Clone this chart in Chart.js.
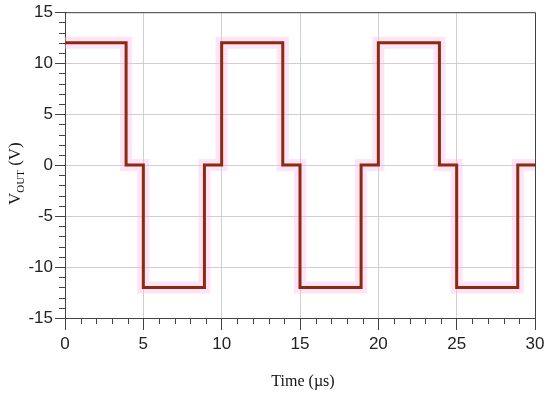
<!DOCTYPE html>
<html>
<head>
<meta charset="utf-8">
<script src="https://cdn.jsdelivr.net/npm/chart.js@4/dist/chart.umd.min.js"></script>
<style>
  html, body { margin: 0; padding: 0; background: #fff; }
  #wrap { width: 550px; height: 396px; position: relative; }
</style>
</head>
<body>
<div id="wrap"><canvas id="vout"></canvas></div>
<script>
"use strict";

// transition points of the output waveform (value held until the next time)
const timeUs = [0, 3.9, 5, 8.9, 10, 13.9, 15, 18.9, 20, 23.9, 25, 28.9, 30];
const voltsOut = [12, 0, -12, 0, 12, 0, -12, 0, 12, 0, -12, 0, 0];

const xTicks = [0, 5, 10, 15, 20, 25, 30];
const yTicks = [-15, -10, -5, 0, 5, 10, 15];

const points = timeUs.map((t, i) => ({ x: t, y: voltsOut[i] }));

const SANS = "Arial, 'Liberation Sans', sans-serif";
const SERIF = "'Times New Roman', 'Liberation Serif', serif";

// minor ticks, top/right frame and the axis titles
const decorPlugin = {
  id: "decor",
  afterDraw(chart) {
    const ctx = chart.ctx;
    const { top, bottom, left, right } = chart.chartArea;
    const xs = chart.scales.x, ys = chart.scales.y;
    ctx.save();
    ctx.strokeStyle = "#444";
    ctx.lineWidth = 1;
    ctx.beginPath();
    for (let v = xs.min; v <= xs.max; v++) {
      if (v % 5 === 0) continue;
      const px = Math.round(xs.getPixelForValue(v)) + 0.5;
      ctx.moveTo(px, bottom);
      ctx.lineTo(px, bottom + 6);
    }
    for (let v = ys.min; v <= ys.max; v++) {
      if (v % 5 === 0) continue;
      const py = Math.round(ys.getPixelForValue(v)) + 0.5;
      ctx.moveTo(left, py);
      ctx.lineTo(left - 6, py);
    }
    // frame
    ctx.moveTo(left, top + 0.5);
    ctx.lineTo(right + 0.5, top + 0.5);
    ctx.lineTo(right + 0.5, bottom);
    ctx.stroke();

    ctx.fillStyle = "#111";
    ctx.font = "16px " + SERIF;
    ctx.textAlign = "center";
    ctx.textBaseline = "middle";
    ctx.fillText("Time (µs)", (left + right) / 2 + 3, 382);

    // V_OUT (V), rotated
    ctx.translate(20, 205);
    ctx.rotate(-Math.PI / 2);
    ctx.textAlign = "left";
    ctx.textBaseline = "alphabetic";
    ctx.font = "17px " + SERIF;
    ctx.fillText("V", 0, 0);
    let w = ctx.measureText("V").width;
    ctx.font = "11px " + SERIF;
    ctx.fillText("OUT", w, 4);
    w += ctx.measureText("OUT").width;
    ctx.font = "17px " + SERIF;
    ctx.fillText(" (V)", w, 0);
    ctx.restore();
  },
};

new Chart(document.getElementById("vout"), {
  type: "line",
  plugins: [decorPlugin],
  data: {
    datasets: [
      {
        label: "Vout",
        data: points,
        stepped: "before",
        borderColor: "#8a2a0e",
        borderWidth: 3,
        pointRadius: 0,
        fill: false,
        order: 1,
      },
      {
        label: "glow",
        data: points,
        stepped: "before",
        borderColor: "rgba(255,185,235,0.4)",
        borderWidth: 12,
        pointRadius: 0,
        fill: false,
        order: 2,
      },
    ],
  },
  options: {
    responsive: true,
    maintainAspectRatio: false,
    animation: false,
    layout: { padding: { top: 10, right: 15, left: 0, bottom: 0 } },
    plugins: { legend: { display: false }, tooltip: { enabled: false } },
    scales: {
      x: {
        type: "linear",
        min: 0,
        max: 30,
        afterBuildTicks: (s) => { s.ticks = xTicks.map((v) => ({ value: v })); },
        afterFit: (s) => { s.height = 78; },
        grid: { color: "#cfcfcf", tickColor: "#444", tickLength: 12 },
        border: { color: "#444", width: 1 },
        ticks: {
          color: "#222",
          padding: 4,
          maxRotation: 0,
          font: { family: SANS, size: 17 },
        },
      },
      y: {
        type: "linear",
        min: -15,
        max: 15,
        afterBuildTicks: (s) => { s.ticks = yTicks.map((v) => ({ value: v })); },
        afterFit: (s) => { s.width = 65; },
        grid: { color: "#cfcfcf", tickColor: "#444", tickLength: 10 },
        border: { color: "#444", width: 1 },
        ticks: {
          color: "#222",
          padding: 2,
          font: { family: SANS, size: 17 },
        },
      },
    },
  },
});
</script>
</body>
</html>
